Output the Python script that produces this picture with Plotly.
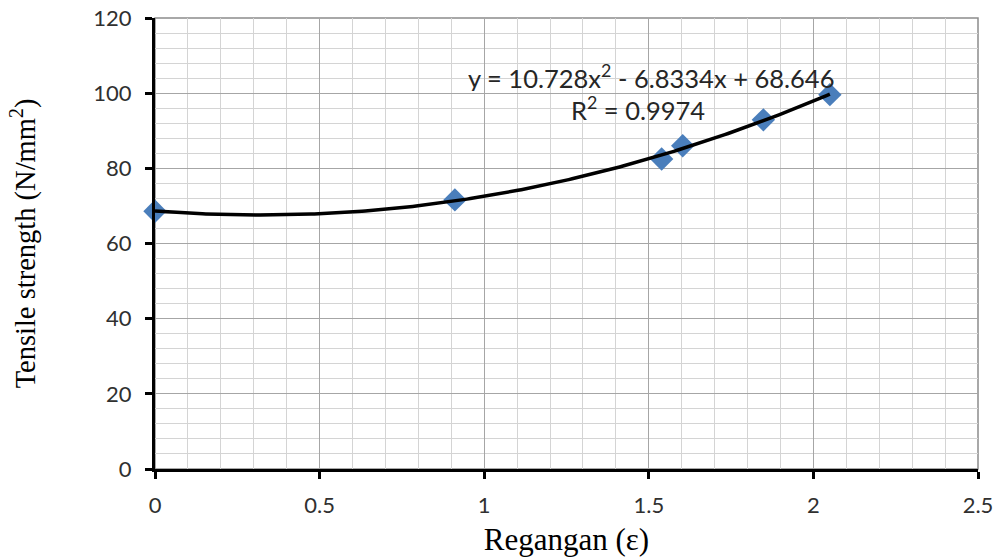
import numpy as np
import plotly.graph_objects as go

# Measured strain and tensile strength
strain = [0.0, 0.911, 1.539, 1.603, 1.848, 2.050]
strength = [68.6, 71.6, 82.5, 86.0, 92.9, 99.6]

# Second-order polynomial trendline coefficients (a*x^2 + b*x + c)
coef_a, coef_b, coef_c = 10.728, -6.8334, 68.646
r_squared = 0.9974

x_ticks = [0, 0.5, 1, 1.5, 2, 2.5]
y_ticks = [0, 20, 40, 60, 80, 100, 120]

xs = np.linspace(min(strain), max(strain), 200)
ys = coef_a * xs**2 + coef_b * xs + coef_c

fig = go.Figure()

fig.add_trace(go.Scatter(
    x=strain, y=strength, mode="markers",
    marker=dict(symbol="diamond", size=18, color="#4a7ebb",
                line=dict(width=0)),
    showlegend=False, cliponaxis=False,
))
fig.add_trace(go.Scatter(
    x=xs, y=ys, mode="lines",
    line=dict(color="black", width=3.5),
    showlegend=False,
))

tick_font = dict(family="Lato, Open Sans, sans-serif", size=22, color="#303030")

fig.update_xaxes(
    range=[0, 2.5], tickvals=x_ticks, ticktext=[f"{v:g}" for v in x_ticks],
    showline=True, linecolor="black", linewidth=3,
    ticks="outside", ticklen=7, tickwidth=3, tickcolor="black",
    ticklabelstandoff=8, automargin=False,
    showgrid=True, gridcolor="#a6a6a6", gridwidth=1,
    minor=dict(dtick=0.1, showgrid=True, gridcolor="#d4d4d4", gridwidth=1, ticks=""),
    zeroline=False, tickfont=tick_font,
    title=dict(text="Regangan (ε)",
               font=dict(family="Liberation Serif, Times New Roman, serif", size=31, color="black"),
               standoff=11),
)
fig.update_yaxes(
    range=[0, 120], tickvals=y_ticks, ticktext=[str(v) for v in y_ticks],
    showline=True, linecolor="black", linewidth=3,
    ticks="outside", ticklen=7, tickwidth=3, tickcolor="black",
    ticklabelstandoff=9, automargin=False,
    showgrid=True, gridcolor="#a6a6a6", gridwidth=1,
    minor=dict(dtick=4, showgrid=True, gridcolor="#d4d4d4", gridwidth=1, ticks=""),
    zeroline=False, tickfont=tick_font,
    title=dict(text="Tensile strength (N/mm<sup>2</sup>)",
               font=dict(family="Liberation Serif, Times New Roman, serif", size=28.5, color="black"),
               standoff=50),
)

# Grey plot-area frame on the top and right
fig.add_shape(type="rect", xref="paper", yref="paper", x0=0, y0=0, x1=1, y1=1,
              line=dict(color="#8c8c8c", width=1.5), layer="below")

eq_font = dict(family="Lato, Open Sans, sans-serif", size=25.5, color="#262626")
fig.add_annotation(
    x=1.508, y=104.6, xref="x", yref="y", showarrow=False,
    text=f"y = {coef_a}x<sup>2</sup> - {abs(coef_b)}x + {coef_c}",
    font=eq_font, height=30,
)
fig.add_annotation(
    x=1.468, y=96.1, xref="x", yref="y", showarrow=False,
    text=f"R<sup>2</sup> = {r_squared}",
    font=eq_font, height=30,
)

fig.update_layout(
    width=998, height=560,
    margin=dict(l=155, r=20, t=18, b=91, autoexpand=False),
    paper_bgcolor="white", plot_bgcolor="white",
)

fig.write_html("out.html")
